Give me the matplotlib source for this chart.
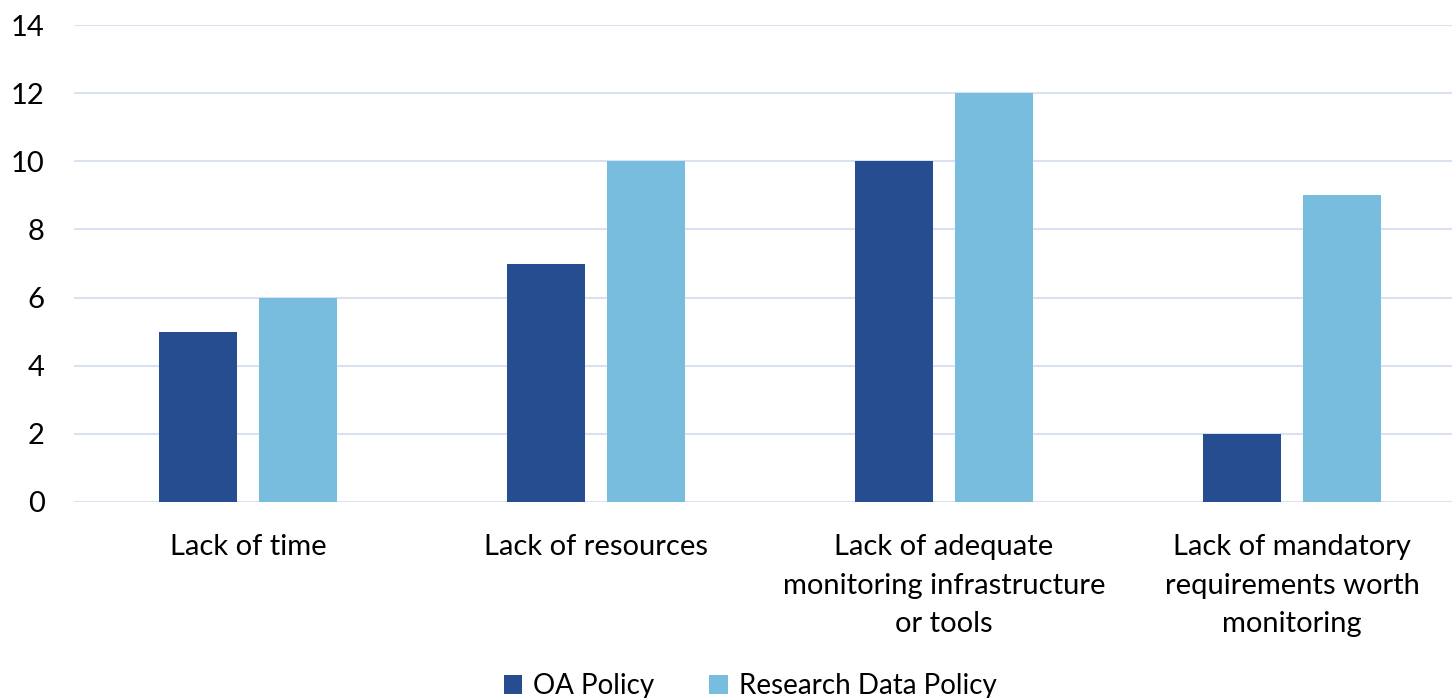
import numpy as np
import matplotlib.pyplot as plt

categories = ["Lack of time", "Lack of resources",
              "Lack of adequate\nmonitoring infrastructure\nor tools",
              "Lack of mandatory\nrequirements worth\nmonitoring"]
oa_policy = [5, 7, 10, 2]
rd_policy = [6, 10, 12, 9]

plt.rcParams['font.family'] = ['Lato', 'DejaVu Sans']

fig = plt.figure(figsize=(14.52, 6.98), dpi=100)
ax = fig.add_axes([74 / 1452, 196 / 698, 1392 / 1452, 477 / 698])

x = np.arange(len(categories))
w = 0.224
off = 0.1437
ax.bar(x - off, oa_policy, w, color="#254D8F", label="OA Policy", zorder=3)
ax.bar(x + off, rd_policy, w, color="#78BCDE", label="Research Data Policy", zorder=3)

ax.set_xlim(-0.5, 3.5)
ax.set_ylim(0, 14)
ax.set_yticks(range(0, 15, 2))
ax.set_xticks(x)
ax.set_xticklabels(categories, linespacing=1.6)
ax.tick_params(axis='both', length=0, labelsize=21, colors="#000000")
ax.tick_params(axis='y', pad=21)
ax.tick_params(axis='x', pad=23)
ax.grid(axis='y', color="#D9E1F2", linewidth=1.5, zorder=0)
for s in ax.spines.values():
    s.set_visible(False)

fig.legend(loc='center', bbox_to_anchor=(750 / 1452, 12 / 698), ncol=2,
           frameon=False, fontsize=20, handlelength=0.65, handleheight=0.65,
           columnspacing=2.0, handletextpad=0.4)

fig.savefig("out.png", dpi=100)
